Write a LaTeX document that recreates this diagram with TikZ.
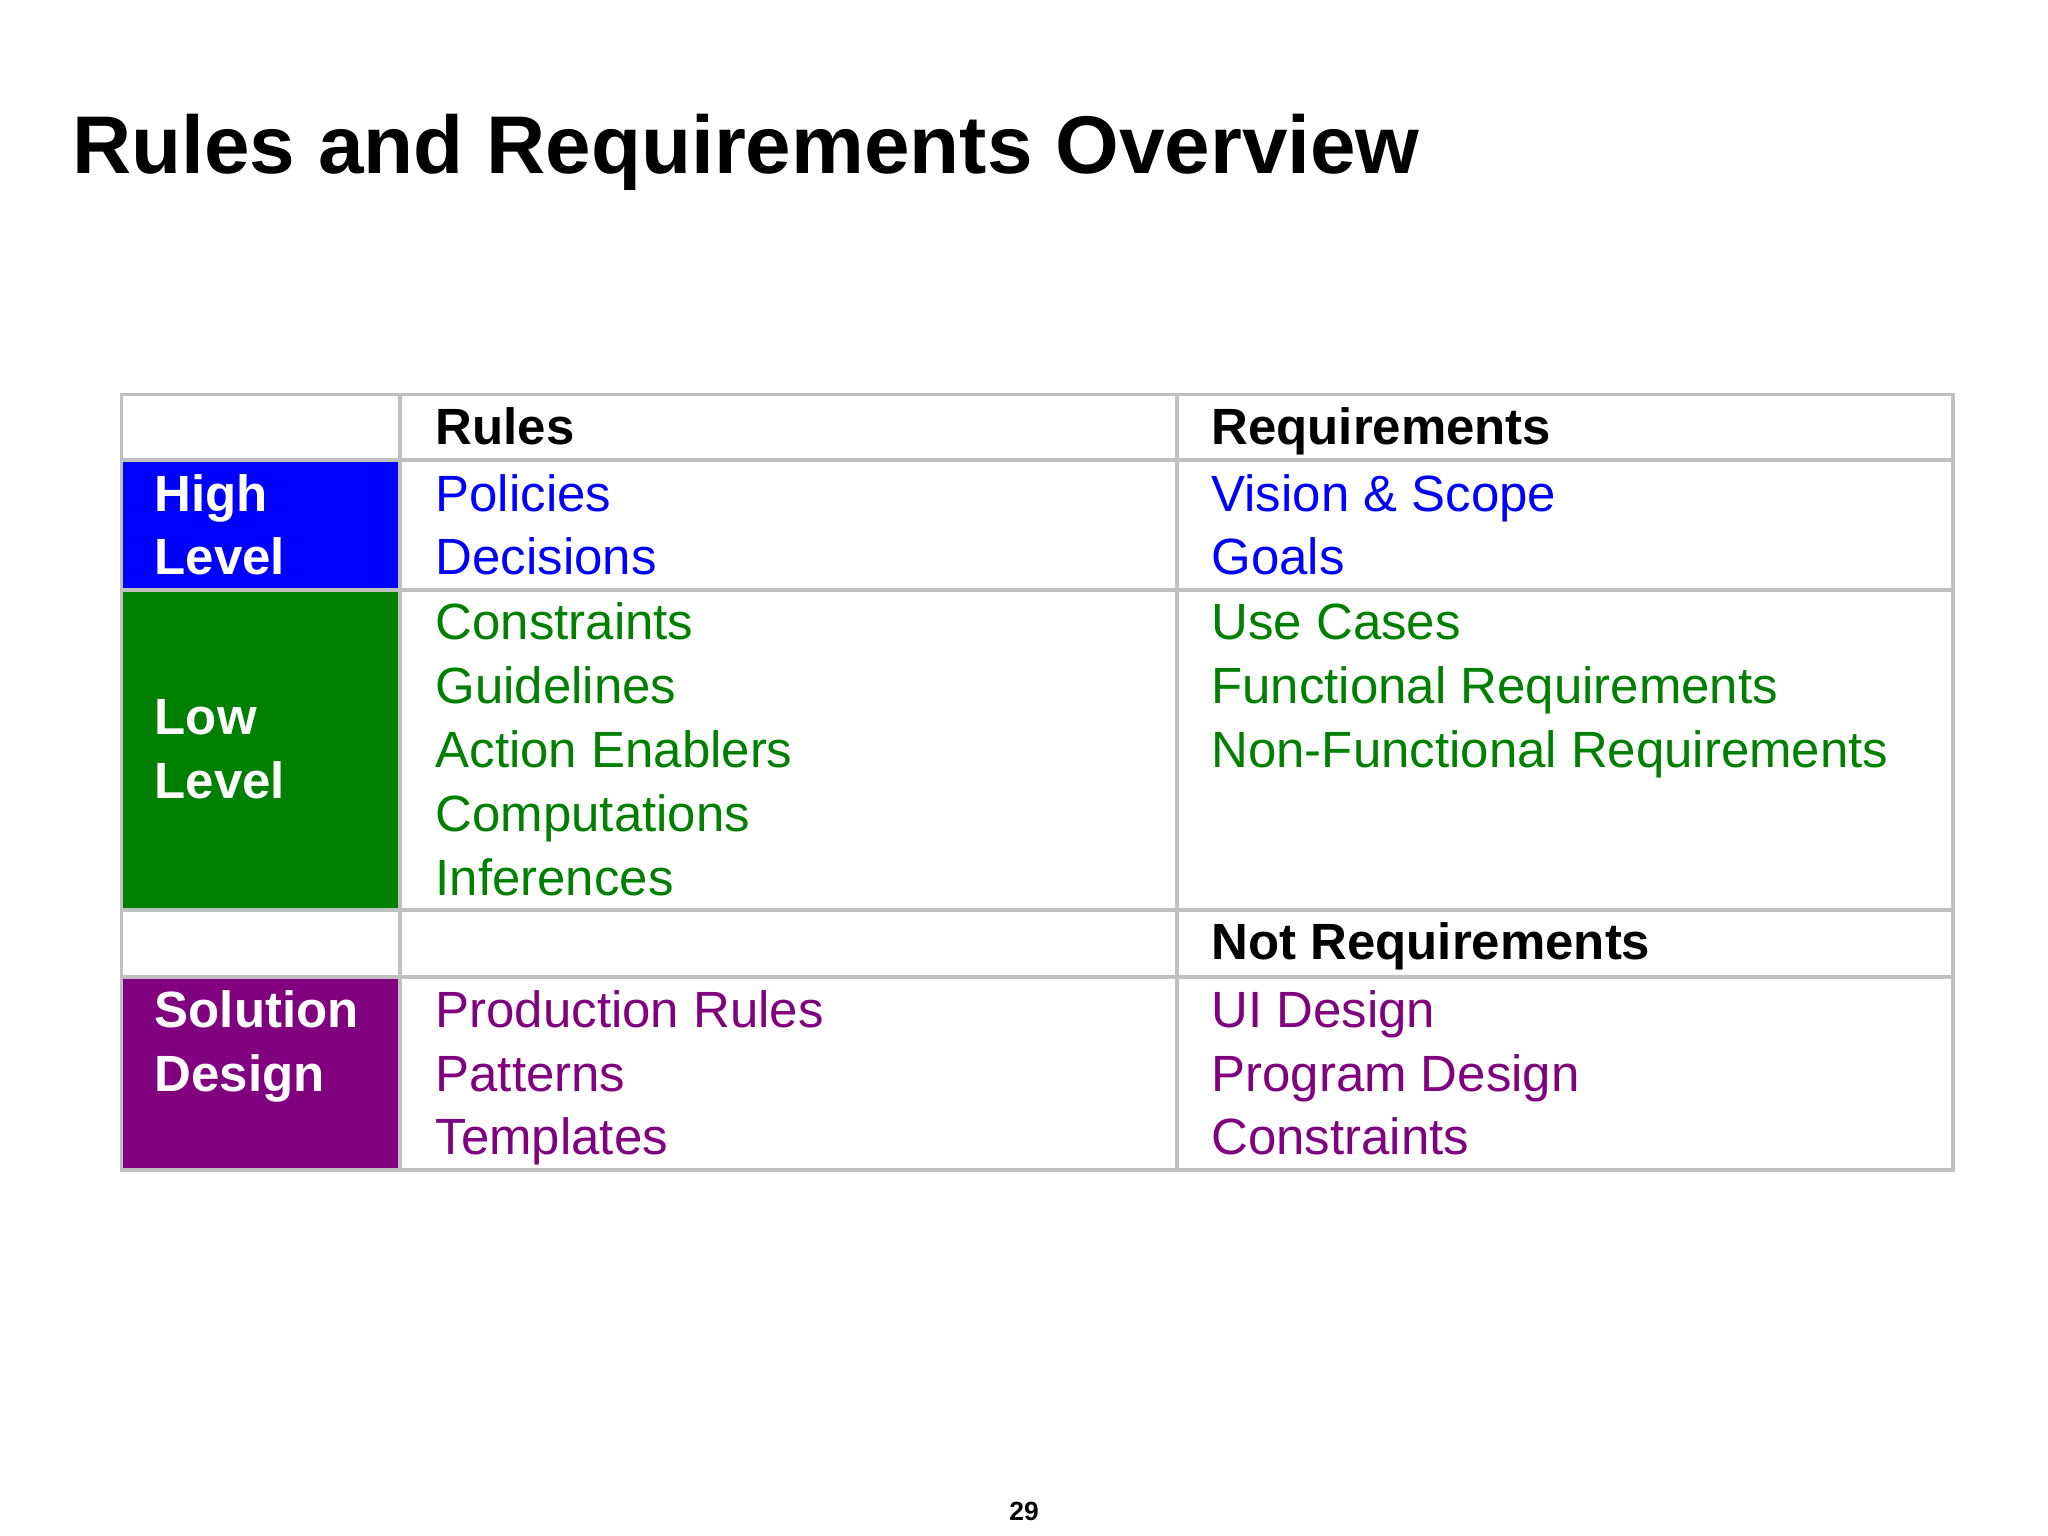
\documentclass[tikz,border=0pt]{standalone}
\usepackage{fontspec}
\setmainfont{Liberation Sans}
\definecolor{hb}{HTML}{0000FF}
\definecolor{lg}{HTML}{008000}
\definecolor{sp}{HTML}{800080}
\definecolor{gr}{HTML}{C0C0C0}
\begin{document}
\begin{tikzpicture}[x=0.013061cm,y=-0.013061cm,
  txt/.style={anchor=base west,inner sep=0pt,font=\fontsize{14.5}{17}\selectfont},
  hd/.style={txt,font=\fontsize{14.5}{17}\selectfont\bfseries},
  lab/.style={txt,font=\fontsize{14.5}{17}\selectfont\bfseries,text=white}]
\useasboundingbox (0,0) rectangle (1568,1176);
\fill[hb] (93,352) rectangle (306,452);
\fill[lg] (93,452) rectangle (306,697);
\fill[sp] (93,748) rectangle (306,896);
\draw[gr,line width=1.1pt] (93,302) rectangle (1495,896);
\foreach \yy in {352,452,697,748} \draw[gr,line width=1.1pt] (93,\yy) -- (1495,\yy);
\foreach \xx in {306,901} \draw[gr,line width=1.1pt] (\xx,302) -- (\xx,896);
\node[anchor=base west,inner sep=0pt,font=\fontsize{23.3}{28}\selectfont\bfseries] (title) at (55,133) {Rules and Requirements Overview};
\node[hd] (h1) at (333,340) {Rules};
\node[hd] (h2) at (927,340) {Requirements};
\node[hd] (h3) at (927,735) {Not Requirements};
\node[lab] (l1) at (118,392) {High};
\node[lab] (l2) at (118,440) {Level};
\node[lab] (l3) at (118,562) {Low};
\node[lab] (l4) at (118,611) {Level};
\node[lab] (l5) at (118,787) {Solution};
\node[lab] (l6) at (118,836) {Design};
\node[txt,text=hb] (a1) at (333,392) {Policies};
\node[txt,text=hb] (a2) at (333,440) {Decisions};
\node[txt,text=hb] (b1) at (927,392) {Vision \& Scope};
\node[txt,text=hb] (b2) at (927,440) {Goals};
\node[txt,text=lg] (c1) at (333,490) {Constraints};
\node[txt,text=lg] (c2) at (333,539) {Guidelines};
\node[txt,text=lg] (c3) at (333,588) {Action Enablers};
\node[txt,text=lg] (c4) at (333,637) {Computations};
\node[txt,text=lg] (c5) at (333,686) {Inferences};
\node[txt,text=lg] (d1) at (927,490) {Use Cases};
\node[txt,text=lg] (d2) at (927,539) {Functional Requirements};
\node[txt,text=lg] (d3) at (927,588) {Non-Functional Requirements};
\node[txt,text=sp] (e1) at (333,787) {Production Rules};
\node[txt,text=sp] (e2) at (333,836) {Patterns};
\node[txt,text=sp] (e3) at (333,884) {Templates};
\node[txt,text=sp] (f1) at (927,787) {UI Design};
\node[txt,text=sp] (f2) at (927,836) {Program Design};
\node[txt,text=sp] (f3) at (927,884) {Constraints};
\node[anchor=base,inner sep=0pt,font=\fontsize{7.5}{9}\selectfont\bfseries] (pg) at (784,1164) {29};
\end{tikzpicture}
\end{document}
